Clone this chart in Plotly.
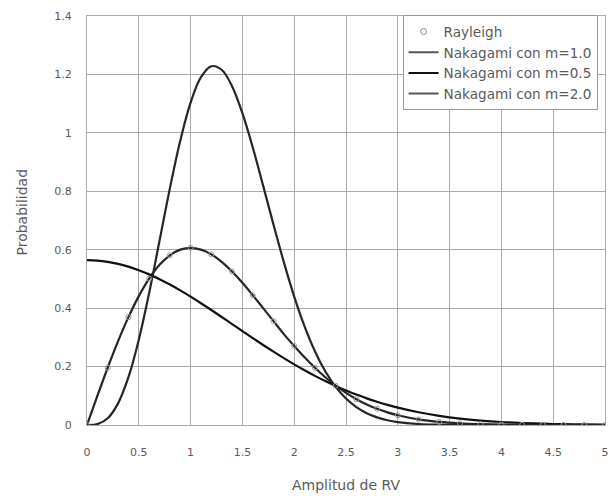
import plotly.graph_objects as go

# Amplitude grid
x_vals = [0.0, 0.1, 0.2, 0.3, 0.4, 0.5, 0.6, 0.7, 0.8, 0.9,
          1.0, 1.1, 1.2, 1.3, 1.4, 1.5, 1.6, 1.7, 1.8, 1.9,
          2.0, 2.1, 2.2, 2.3, 2.4, 2.5, 2.6, 2.7, 2.8, 2.9,
          3.0, 3.2, 3.4, 3.6, 3.8, 4.0, 4.2, 4.4, 4.6, 4.8, 5.0]

nakagami_m1 = [0.0, 0.0995, 0.1960, 0.2869, 0.3692, 0.4412, 0.5012, 0.5483, 0.5809, 0.6003,
               0.6065, 0.6003, 0.5841, 0.5587, 0.5254, 0.4870, 0.4443, 0.4001, 0.3557, 0.3112,
               0.2707, 0.2318, 0.1960, 0.1634, 0.1345, 0.1098, 0.0884, 0.0705, 0.0555, 0.0432,
               0.0333, 0.0191, 0.0105, 0.0055, 0.0028, 0.0013, 0.0006, 0.0003, 0.0001, 0.0000, 0.0]

nakagami_m05 = [0.5642, 0.5628, 0.5586, 0.5517, 0.5421, 0.5300, 0.5156, 0.4991, 0.4808, 0.4608,
                0.4394, 0.4169, 0.3936, 0.3698, 0.3456, 0.3215, 0.2975, 0.2739, 0.2510, 0.2288,
                0.2076, 0.1874, 0.1682, 0.1504, 0.1337, 0.1183, 0.1041, 0.0912, 0.0795, 0.0689,
                0.0595, 0.0436, 0.0314, 0.0221, 0.0153, 0.0103, 0.0069, 0.0045, 0.0028, 0.0018, 0.0011]

nakagami_m2 = [0.0, 0.0030, 0.0231, 0.0740, 0.1636, 0.2921, 0.4521, 0.6304, 0.8099, 0.9730,
               1.1036, 1.1907, 1.2281, 1.2160, 1.1599, 1.0672, 0.9499, 0.8195, 0.6859, 0.5576,
               0.4396, 0.3378, 0.2527, 0.1840, 0.1307, 0.0905, 0.0611, 0.0403, 0.0260, 0.0163,
               0.0100, 0.0035, 0.0011, 0.0003, 0.0001, 0.0, 0.0, 0.0, 0.0, 0.0, 0.0]

rayleigh_x = [0.0, 0.2, 0.4, 0.6, 0.8, 1.0, 1.2, 1.4, 1.6, 1.8, 2.0, 2.2, 2.4,
              2.6, 2.8, 3.0, 3.2, 3.4, 3.6, 3.8, 4.0, 4.2, 4.4, 4.6, 4.8, 5.0]
rayleigh_y = [0.0, 0.1960, 0.3692, 0.5012, 0.5809, 0.6065, 0.5841, 0.5254, 0.4443, 0.3557,
              0.2707, 0.1960, 0.1345, 0.0884, 0.0555, 0.0333, 0.0191, 0.0105, 0.0055, 0.0028,
              0.0013, 0.0006, 0.0003, 0.0001, 0.0, 0.0]

x_ticks = [0, 0.5, 1, 1.5, 2, 2.5, 3, 3.5, 4, 4.5, 5]
x_tick_text = ["0", "0.5", "1", "1.5", "2", "2.5", "3", "3.5", "4", "4.5", "5"]
y_ticks = [0, 0.2, 0.4, 0.6, 0.8, 1.0, 1.2, 1.4]
y_tick_text = ["0", "0.2", "0.4", "0.6", "0.8", "1", "1.2", "1.4"]

FONT = "DejaVu Sans, Verdana, sans-serif"
TXT = "#5a5a5a"
GRID = "#aaaaaa"

L, R, T, B = 87, 6, 16, 71
PW, PH = 615 - L - R, 496 - T - B

fig = go.Figure()
fig.add_trace(go.Scatter(x=x_vals, y=nakagami_m1, mode="lines", name="Nakagami con m=1.0",
                         line=dict(color="#262626", width=2.2, shape="spline"), showlegend=False))
fig.add_trace(go.Scatter(x=x_vals, y=nakagami_m05, mode="lines", name="Nakagami con m=0.5",
                         line=dict(color="#111111", width=2.2, shape="spline"), showlegend=False))
fig.add_trace(go.Scatter(x=x_vals, y=nakagami_m2, mode="lines", name="Nakagami con m=2.0",
                         line=dict(color="#262626", width=2.2, shape="spline"), showlegend=False))
fig.add_trace(go.Scatter(x=rayleigh_x, y=rayleigh_y, mode="markers", name="Rayleigh",
                         marker=dict(symbol="circle-open", size=5, color="#9a9a9a",
                                     line=dict(width=1, color="#9a9a9a")),
                         showlegend=False))

# legend-only traces in the reference order
fig.add_trace(go.Scatter(x=[None], y=[None], mode="markers", name="Rayleigh",
                         marker=dict(symbol="circle-open", size=6, color="#8a8a8a",
                                     line=dict(width=1, color="#8a8a8a"))))
fig.add_trace(go.Scatter(x=[None], y=[None], mode="lines", name="Nakagami con m=1.0",
                         line=dict(color="#555555", width=2)))
fig.add_trace(go.Scatter(x=[None], y=[None], mode="lines", name="Nakagami con m=0.5",
                         line=dict(color="#111111", width=2)))
fig.add_trace(go.Scatter(x=[None], y=[None], mode="lines", name="Nakagami con m=2.0",
                         line=dict(color="#555555", width=2)))

fig.update_layout(
    width=615, height=496,
    margin=dict(l=L, r=R, t=T, b=B),
    paper_bgcolor="white", plot_bgcolor="white",
    font=dict(family=FONT, size=11, color=TXT),
    legend=dict(x=(405 - L) / PW, y=1.002, xanchor="left", yanchor="top",
                bgcolor="white", bordercolor="#9a9a9a", borderwidth=1,
                font=dict(family=FONT, size=13.6, color=TXT),
                tracegroupgap=0, itemwidth=30),
    xaxis=dict(range=[0, 5], tickvals=x_ticks, ticktext=x_tick_text,
               showgrid=True, gridcolor=GRID, gridwidth=1,
               showline=True, linecolor=GRID, mirror=True,
               zeroline=False, ticks="", ticklabelstandoff=17,
               tickfont=dict(family=FONT, size=11, color=TXT)),
    yaxis=dict(range=[0, 1.4], tickvals=y_ticks, ticktext=y_tick_text,
               showgrid=True, gridcolor=GRID, gridwidth=1,
               showline=True, linecolor=GRID, mirror=True,
               zeroline=False, ticks="", ticklabelstandoff=12,
               tickfont=dict(family=FONT, size=11, color=TXT)),
    annotations=[
        dict(text="Amplitud de RV", xref="paper", yref="paper",
             x=0.5, y=(425 - 485) / PH, showarrow=False,
             xanchor="center", yanchor="middle",
             font=dict(family=FONT, size=14, color=TXT)),
        dict(text="Probabilidad", xref="paper", yref="paper",
             x=(22 - L) / PW, y=(425 - 212) / PH, showarrow=False,
             textangle=-90, xanchor="center", yanchor="middle",
             font=dict(family=FONT, size=14, color=TXT)),
    ],
)

fig.write_html("out.html")
